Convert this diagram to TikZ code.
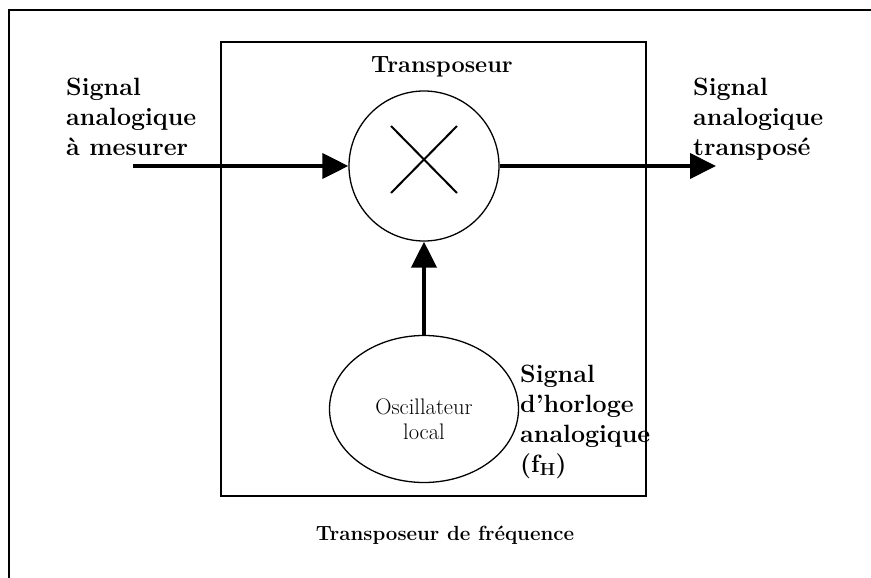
\documentclass[tikz,border=0pt]{standalone}
\usepackage{tikz}
\usetikzlibrary{shapes.geometric,arrows.meta,positioning,calc}
\tikzset{
  tr_frame/.style={draw=black,line width=2pt},
  tr_box/.style={draw=black,line width=1.3pt},
  tr_mix/.style={circle,draw=black,line width=1.3pt,
    minimum size=150pt,inner sep=0pt},
  tr_osc/.style={ellipse,draw=black,line width=1.3pt,
    minimum width=189pt,minimum height=147pt,inner sep=0pt,
    align=center,font=\fontsize{22.5}{25}\selectfont},
  tr_label/.style={align=left,inner sep=0pt,anchor=base west,
    font=\fontsize{25}{30}\selectfont\bfseries},
  tr_title/.style={inner sep=0pt,anchor=base,font=\bfseries},
  arr/.style={-{Triangle[length=26pt,width=25pt]},line width=4pt},
}
\begin{document}
\begin{tikzpicture}[x=1pt,y=-1pt]
  \useasboundingbox (0,0) rectangle (871,578);
  \clip (0,0) rectangle (871,578);
  % outer frame (runs off the page right and bottom)
  \draw[tr_frame] (9,10) rectangle (900,610);
  % transposer block
  \draw[tr_box] (221,42) rectangle (646,496);
  \node (title) [tr_title,font=\fontsize{23.5}{28}\selectfont\bfseries]
    at (442,73) {Transposeur};
  \node (mix) [tr_mix] at (424,166) {};
  \draw[line width=2pt] ($(mix)+(-33,-40)$) -- ($(mix)+(33,27)$);
  \draw[line width=2pt] ($(mix)+(-33,27)$) -- ($(mix)+(33,-40)$);
  \node (osc) [tr_osc] at (424,409)
    {\rule{0pt}{36pt}Oscillateur\\local};
  % labels (base = last line)
  \node (lin) [tr_label] at (66,155)
    {Signal\\analogique\\à mesurer};
  \node (lout) [tr_label] at (693,155)
    {Signal\\analogique\\transposé};
  \node (lclk) [tr_label] at (520,472)
    {Signal\\d’horloge\\analogique\\(f\textsubscript{H})};
  \node (caption) [tr_title,font=\fontsize{20.5}{24}\selectfont\bfseries]
    at (445,540) {Transposeur de fréquence};

  \coordinate (src) at (133,166);
  \coordinate (dst) at (716,166);
  \draw[arr] (src) -- (mix.west);
  \draw[arr] (mix.east) -- (dst);
  \draw[arr] (osc.north) -- (mix.south);
\end{tikzpicture}
\end{document}
